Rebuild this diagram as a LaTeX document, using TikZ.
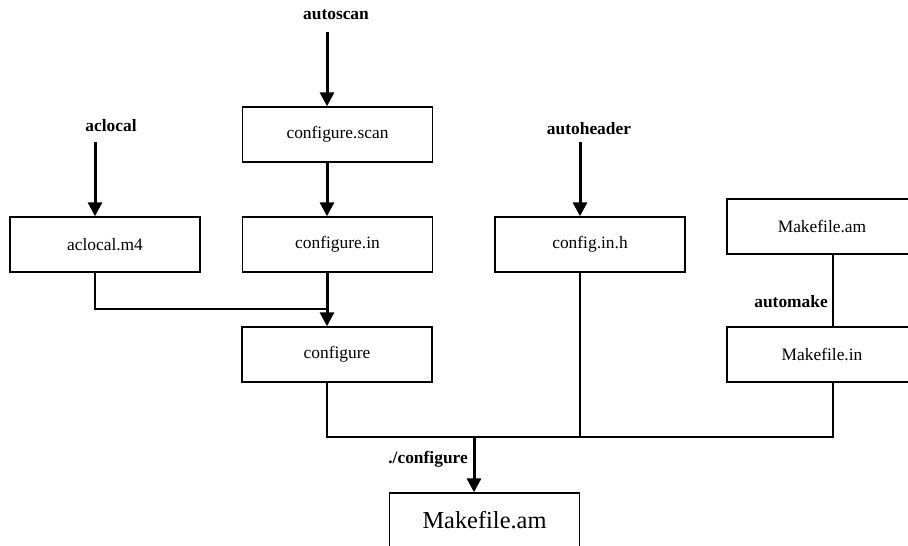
\documentclass[tikz,border=0pt]{standalone}
\usepackage{fontspec}
\setmainfont{Liberation Serif}
\usetikzlibrary{arrows.meta}
\begin{document}
\begin{tikzpicture}[x=1pt,y=-1pt,
  box/.style={draw, line width=1.4pt, minimum width=190pt, minimum height=55pt, inner sep=0pt, font=\fontsize{17.4}{20}\selectfont},
  lbl/.style={font=\fontsize{17.4}{20}\selectfont\bfseries, inner sep=0pt},
  bigarrow/.style={line width=3pt, -{Triangle[length=14pt,width=14pt]}},
  link/.style={line width=1.4pt}]
\clip (0,0) rectangle (908,546);
\fill[white] (0,0) rectangle (908,546);

% boxes
\node[box] (scan) at (337.5,134.5) {configure.scan};
\node[box] (cin) at (337.5,244.5) {configure.in};
\node[box] (m4) at (105,244.5) {aclocal.m4};
\node[box] (conf) at (337,354.5) {configure};
\node[box] (cih) at (590,244.5) {config.in.h};
\node[box] (mam) at (822,226.5) {Makefile.am};
\node[box] (min) at (822,354.5) {Makefile.in};
\node[box, font=\fontsize{24.4}{28}\selectfont] (out) at (484.5,520.5) {Makefile.am};

% labels
\node[lbl] (autoscan) at (336,15) {autoscan};
\node[lbl] (aclocal) at (111,126) {aclocal};
\node[lbl] (autoheader) at (589,129) {autoheader};
\node[lbl, anchor=east] (automake) at (828,302) {automake};
\node[lbl, anchor=east] (dotconf) at (468,459) {./configure};

% coordinates
\coordinate (s1) at (327,32);
\coordinate (s2) at (95,142);
\coordinate (s3) at (580,142);
\coordinate (j1) at (327,309);
\coordinate (bus) at (833,437);
\coordinate (j2) at (474,437);

% thick arrows
\draw[bigarrow] (s1) -- ([xshift=-10.5pt]scan.north);
\draw[bigarrow] (s2) -- ([xshift=-10pt]m4.north);
\draw[bigarrow] (s3) -- ([xshift=-10pt]cih.north);
\draw[bigarrow] ([xshift=-10.5pt]scan.south) -- ([xshift=-10.5pt]cin.north);
\draw[bigarrow] ([xshift=-10.5pt]cin.south) -- ([xshift=-10pt]conf.north);
\draw[bigarrow] (j2) -- ([xshift=-10.5pt]out.north);

% thin links
\draw[link] ([xshift=-10pt]m4.south) |- (j1);
\draw[link] ([xshift=-10pt]conf.south) |- (bus) -- ([xshift=11pt]min.south);
\draw[link] ([xshift=-10pt]cih.south) -- ([xshift=-10pt]cih.south |- bus);
\draw[link] ([xshift=11pt]mam.south) -- ([xshift=11pt]min.north);
\end{tikzpicture}
\end{document}
